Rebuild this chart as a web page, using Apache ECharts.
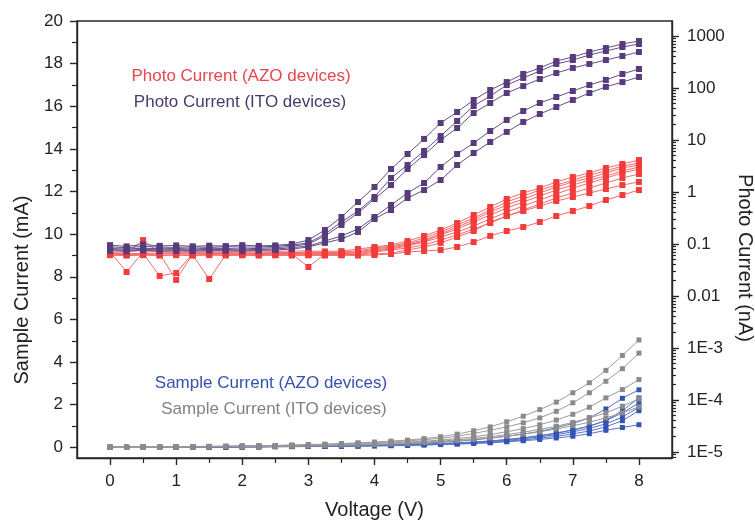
<!DOCTYPE html>
<html>
<head>
<meta charset="utf-8">
<script src="https://cdn.jsdelivr.net/npm/echarts@6/dist/echarts.min.js"></script>
<style>
  html, body { margin: 0; padding: 0; background: #ffffff; }
  #chart { width: 755px; height: 522px; }
</style>
</head>
<body>
<div id="chart"></div>
<script>
// Bias voltage steps (V)
const voltages = [0, 0.25, 0.5, 0.75, 1, 1.25, 1.5, 1.75, 2, 2.25, 2.5, 2.75, 3, 3.25, 3.5, 3.75,
                  4, 4.25, 4.5, 4.75, 5, 5.25, 5.5, 5.75, 6, 6.25, 6.5, 6.75, 7, 7.25, 7.5, 7.75, 8];

// Photo current of AZO devices (nA)
const photoAzo1 = [0.078, 0.074, 0.076, 0.073, 0.075, 0.074, 0.072, 0.075, 0.073, 0.074, 0.072, 0.074, 0.073, 0.072, 0.073,
                   0.0801, 0.0876, 0.0957, 0.114, 0.143, 0.186, 0.253, 0.361, 0.515, 0.733, 0.957, 1.19, 1.56, 1.94, 2.32, 2.90, 3.46, 4.12];
const photoAzo2 = [0.071, 0.029, 0.070, 0.072, 0.070, 0.071, 0.069, 0.070, 0.071, 0.069, 0.070, 0.068, 0.070, 0.069, 0.070,
                   0.0733, 0.0838, 0.0916, 0.105, 0.130, 0.170, 0.232, 0.316, 0.451, 0.642, 0.838, 1.09, 1.36, 1.70, 2.12, 2.54, 3.16, 3.61];
const photoAzo3 = [0.068, 0.067, 0.119, 0.068, 0.067, 0.068, 0.066, 0.068, 0.067, 0.066, 0.068, 0.067, 0.068, 0.067, 0.068,
                   0.0702, 0.0801, 0.0876, 0.100, 0.119, 0.156, 0.212, 0.289, 0.412, 0.562, 0.733, 0.957, 1.25, 1.56, 1.86, 2.32, 2.90, 3.31];
const photoAzo4 = [0.066, 0.065, 0.066, 0.0243, 0.0277, 0.066, 0.065, 0.066, 0.065, 0.066, 0.065, 0.066, 0.065, 0.066, 0.065,
                   0.067, 0.0767, 0.0838, 0.0957, 0.114, 0.149, 0.194, 0.265, 0.361, 0.492, 0.642, 0.838, 1.09, 1.36, 1.70, 2.03, 2.54, 3.03];
const photoAzo5 = [0.064, 0.063, 0.064, 0.065, 0.0204, 0.064, 0.063, 0.064, 0.063, 0.064, 0.063, 0.064, 0.063, 0.064, 0.063,
                   0.065, 0.0733, 0.0801, 0.0916, 0.109, 0.136, 0.170, 0.222, 0.303, 0.412, 0.538, 0.702, 0.916, 1.19, 1.49, 1.86, 2.32, 2.77];
const photoAzo6 = [0.062, 0.061, 0.062, 0.061, 0.062, 0.061, 0.0212, 0.062, 0.061, 0.062, 0.061, 0.062, 0.061, 0.062, 0.061,
                   0.062, 0.0702, 0.0767, 0.0838, 0.0957, 0.119, 0.149, 0.194, 0.253, 0.345, 0.451, 0.588, 0.767, 0.957, 1.19, 1.49, 1.86, 2.22];
const photoAzo7 = [0.066, 0.065, 0.066, 0.065, 0.066, 0.065, 0.066, 0.065, 0.066, 0.065, 0.066, 0.065, 0.0361, 0.064, 0.063,
                   0.063, 0.0642, 0.0671, 0.0767, 0.0876, 0.105, 0.136, 0.178, 0.265, 0.345, 0.431, 0.538, 0.671, 0.801, 0.957, 1.14, 1.36, 1.56];
const photoAzo8 = [0.061, 0.060, 0.061, 0.060, 0.061, 0.060, 0.061, 0.060, 0.061, 0.060, 0.061, 0.060, 0.061, 0.060, 0.061,
                   0.060, 0.0615, 0.0642, 0.0702, 0.0733, 0.0767, 0.0876, 0.109, 0.143, 0.178, 0.212, 0.265, 0.345, 0.431, 0.538, 0.702, 0.876, 1.09];

// Photo current of ITO devices (nA)
const photoIto1 = [0.095, 0.090, 0.098, 0.092, 0.094, 0.090, 0.093, 0.091, 0.095, 0.092, 0.094, 0.100,
                   0.119, 0.186, 0.331, 0.642, 1.25, 2.77, 5.38, 10.5, 21.2, 34.5, 58.8, 91.5, 130, 186, 243, 330, 395, 492, 588, 702, 801];
const photoIto2 = [0.088, 0.085, 0.090, 0.087, 0.086, 0.088, 0.086, 0.089, 0.087, 0.088, 0.090, 0.095,
                   0.105, 0.156, 0.265, 0.431, 0.801, 1.86, 3.31, 6.14, 11.9, 23.2, 45.1, 70.2, 114, 156, 212, 290, 345, 431, 515, 614, 702];
const photoIto3 = [0.082, 0.080, 0.083, 0.081, 0.082, 0.080, 0.083, 0.082, 0.080, 0.083, 0.085, 0.090,
                   0.100, 0.143, 0.232, 0.395, 0.733, 1.36, 2.77, 5.15, 10.0, 17.0, 33.0, 51.5, 80.1, 109, 149, 194, 243, 290, 345, 412, 492];
const photoIto4 = [0.078, 0.076, 0.079, 0.077, 0.078, 0.077, 0.079, 0.078, 0.077, 0.079, 0.080, 0.085,
                   0.0916, 0.114, 0.143, 0.194, 0.331, 0.562, 0.956, 1.49, 3.03, 5.38, 8.75, 14.9, 24.3, 36.1, 51.5, 67.1, 87.5, 114, 143, 186, 232];
const photoIto5 = [0.074, 0.072, 0.075, 0.073, 0.074, 0.073, 0.075, 0.074, 0.073, 0.075, 0.077, 0.080,
                   0.0876, 0.105, 0.125, 0.170, 0.303, 0.451, 0.767, 1.09, 1.70, 3.31, 5.62, 9.16, 14.3, 22.2, 31.6, 43.1, 58.8, 80.1, 105, 130, 163];

// Sample current of AZO devices (mA)
const sampleAzo1 = [0, 0, 0.01, 0.01, 0.02, 0.02, 0.03, 0.03, 0.04, 0.04, 0.05, 0.06, 0.07, 0.08, 0.09, 0.1, 0.12,
                    0.14, 0.17, 0.2, 0.24, 0.29, 0.35, 0.43, 0.52, 0.62, 0.75, 0.92, 1.12, 1.38, 1.8, 2.3, 2.7];
const sampleAzo2 = [0, 0, 0.01, 0.01, 0.01, 0.02, 0.02, 0.02, 0.03, 0.03, 0.04, 0.04, 0.05, 0.06, 0.07, 0.08, 0.09,
                    0.1, 0.12, 0.14, 0.17, 0.2, 0.24, 0.29, 0.36, 0.44, 0.54, 0.66, 0.81, 0.99, 1.26, 1.72, 2.32];
const sampleAzo3 = [0, 0, 0, 0.01, 0.01, 0.02, 0.02, 0.02, 0.03, 0.03, 0.04, 0.05, 0.05, 0.06, 0.07, 0.08, 0.09,
                    0.11, 0.13, 0.15, 0.18, 0.21, 0.25, 0.3, 0.37, 0.45, 0.55, 0.67, 0.82, 1.0, 1.25, 1.62, 2.08];
const sampleAzo4 = [0, 0, 0, 0.01, 0.01, 0.01, 0.02, 0.02, 0.03, 0.03, 0.04, 0.04, 0.05, 0.06, 0.06, 0.07, 0.08,
                    0.1, 0.11, 0.13, 0.16, 0.19, 0.22, 0.27, 0.33, 0.4, 0.49, 0.6, 0.73, 0.89, 1.1, 1.42, 1.88];
const sampleAzo5 = [0, 0, 0, 0, 0.01, 0.01, 0.02, 0.02, 0.02, 0.03, 0.03, 0.04, 0.04, 0.05, 0.06, 0.06, 0.07,
                    0.08, 0.1, 0.12, 0.14, 0.17, 0.2, 0.24, 0.29, 0.35, 0.43, 0.52, 0.63, 0.77, 0.96, 1.25, 1.72];
const sampleAzo6 = [0, 0, 0, 0, 0, 0.01, 0.01, 0.01, 0.02, 0.02, 0.03, 0.03, 0.04, 0.04, 0.05, 0.06, 0.07,
                    0.08, 0.09, 0.11, 0.13, 0.15, 0.18, 0.21, 0.26, 0.31, 0.37, 0.44, 0.52, 0.64, 0.8, 0.93, 1.06];

// Sample current of ITO devices (mA)
const sampleIto1 = [0, 0.01, 0.02, 0.02, 0.03, 0.04, 0.05, 0.06, 0.07, 0.08, 0.09, 0.11, 0.13, 0.15, 0.18, 0.21, 0.25,
                    0.29, 0.34, 0.41, 0.5, 0.62, 0.78, 0.96, 1.2, 1.46, 1.77, 2.12, 2.56, 3.03, 3.61, 4.31, 5.04];
const sampleIto2 = [0, 0.01, 0.01, 0.02, 0.03, 0.03, 0.04, 0.05, 0.06, 0.07, 0.08, 0.1, 0.11, 0.13, 0.16, 0.19, 0.22,
                    0.26, 0.3, 0.36, 0.42, 0.52, 0.65, 0.8, 0.96, 1.15, 1.38, 1.69, 2.09, 2.56, 3.1, 3.69, 4.42];
const sampleIto3 = [0, 0, 0.01, 0.02, 0.02, 0.03, 0.03, 0.04, 0.05, 0.06, 0.07, 0.08, 0.1, 0.11, 0.13, 0.15, 0.18,
                    0.21, 0.25, 0.29, 0.34, 0.41, 0.5, 0.6, 0.73, 0.88, 1.06, 1.28, 1.55, 1.88, 2.32, 2.71, 3.18];
const sampleIto4 = [0, 0, 0.01, 0.01, 0.02, 0.02, 0.03, 0.04, 0.04, 0.05, 0.06, 0.07, 0.08, 0.1, 0.11, 0.13, 0.15,
                    0.18, 0.21, 0.25, 0.29, 0.35, 0.42, 0.5, 0.6, 0.71, 0.84, 0.99, 1.17, 1.38, 1.62, 1.93, 2.28];
const sampleIto5 = [0, 0, 0.01, 0.01, 0.02, 0.02, 0.03, 0.03, 0.04, 0.05, 0.05, 0.06, 0.07, 0.08, 0.1, 0.11, 0.13,
                    0.16, 0.18, 0.22, 0.26, 0.31, 0.37, 0.44, 0.52, 0.62, 0.73, 0.86, 1.01, 1.18, 1.38, 1.62, 1.9];

// Axis ticks and labels
const voltageTicks = [0, 1, 2, 3, 4, 5, 6, 7, 8];
const voltageMinorTicks = [0.5, 1.5, 2.5, 3.5, 4.5, 5.5, 6.5, 7.5];
const sampleTicks = [0, 2, 4, 6, 8, 10, 12, 14, 16, 18, 20];
const sampleMinorTicks = [1, 3, 5, 7, 9, 11, 13, 15, 17, 19];
const photoTicks = [1e-5, 1e-4, 1e-3, 0.01, 0.1, 1, 10, 100, 1000];
const photoTickLabels = ['1E-5', '1E-4', '1E-3', '0.01', '0.1', '1', '10', '100', '1000'];

// Axis titles and legend captions
const voltageTitle = 'Voltage (V)';
const sampleTitle = 'Sample Current (mA)';
const photoTitle = 'Photo Current (nA)';
const legendItems = [
  { text: 'Photo Current (AZO devices)', color: '#e8454c', x: 241, y: 76 },
  { text: 'Photo Current (ITO devices)', color: '#4a3a6c', x: 240, y: 102 },
  { text: 'Sample Current (AZO devices)', color: '#3551ad', x: 271, y: 383 },
  { text: 'Sample Current (ITO devices)', color: '#828282', x: 274, y: 409 }
];

const FONT = '"Liberation Sans", Arial, Helvetica, sans-serif';
const INK = '#262626';
const PHOTO_MIN = 7.67e-6;
const PHOTO_MAX = 1943;

// minor log ticks: 2..9 within each decade
const photoMinorTicks = [];
for (let e = -6; e <= 3; e++) {
  for (let m = 2; m <= 9; m++) {
    const v = m * Math.pow(10, e);
    if (v > PHOTO_MIN && v < PHOTO_MAX) photoMinorTicks.push(v);
  }
}

function photoLabel(v) {
  for (let i = 0; i < photoTicks.length; i++) {
    if (Math.abs(Math.log10(photoTicks[i]) - Math.log10(v)) < 1e-6) return photoTickLabels[i];
  }
  return '';
}

const tickStyle = { color: INK, width: 1.4 };
const minorTickStyle = { color: INK, width: 1.2 };
const labelStyle = { fontSize: 17, color: '#222', fontFamily: FONT };
const nameStyle = { fontSize: 20, color: '#222', fontFamily: FONT };

function curve(values, yAxisIndex, markColor, lineColor, size) {
  return {
    type: 'line',
    xAxisIndex: 0,
    yAxisIndex: yAxisIndex,
    data: voltages.map((v, i) => [v, values[i]]),
    symbol: 'rect',
    symbolSize: size,
    showSymbol: true,
    showAllSymbol: true,
    lineStyle: { color: lineColor, width: 1 },
    itemStyle: { color: markColor },
    emphasis: { disabled: true },
    animation: false,
    silent: true
  };
}

const RED = '#f23c3c', RED_LINE = '#f36a6a';
const PURPLE = '#573b7d', PURPLE_LINE = '#62508a';
const BLUE = '#3453b6', BLUE_LINE = '#5a72c6';
const GRAY = '#8b8b8b', GRAY_LINE = '#9c9c9c';

const series = [];
[sampleAzo1, sampleAzo2, sampleAzo3, sampleAzo4, sampleAzo5, sampleAzo6]
  .forEach(d => series.push(curve(d, 0, BLUE, BLUE_LINE, 5)));
[sampleIto1, sampleIto2, sampleIto3, sampleIto4, sampleIto5]
  .forEach(d => series.push(curve(d, 0, GRAY, GRAY_LINE, 5)));
[photoAzo1, photoAzo2, photoAzo3, photoAzo4, photoAzo5, photoAzo6, photoAzo7, photoAzo8]
  .forEach(d => series.push(curve(d, 2, RED, RED_LINE, 6)));
[photoIto1, photoIto2, photoIto3, photoIto4, photoIto5]
  .forEach(d => series.push(curve(d, 2, PURPLE, PURPLE_LINE, 6)));

const texts = legendItems.map(item => ({
  type: 'text', x: item.x, y: item.y, silent: true,
  style: { text: item.text, fill: item.color, fontSize: 17, fontFamily: FONT, align: 'center', verticalAlign: 'middle' }
}));
// rotated titles of the two vertical axes
texts.push({
  type: 'text', x: 22, y: 290, rotation: Math.PI / 2, silent: true,
  style: { text: sampleTitle, fill: '#222', fontSize: 20, fontFamily: FONT, align: 'center', verticalAlign: 'middle' }
});
texts.push({
  type: 'text', x: 745, y: 258, rotation: -Math.PI / 2, silent: true,
  style: { text: photoTitle, fill: '#222', fontSize: 20, fontFamily: FONT, align: 'center', verticalAlign: 'middle' }
});

const chart = echarts.init(document.getElementById('chart'), null, { renderer: 'canvas' });
chart.setOption({
  animation: false,
  backgroundColor: '#ffffff',
  grid: {
    left: 77, right: 83, top: 21, bottom: 64,
    show: true, borderColor: INK, borderWidth: 1.4,
    containLabel: false, outerBoundsMode: 'none'
  },
  xAxis: [
    {
      type: 'value', position: 'bottom', min: -0.5, max: 8.5,
      axisLine: { show: true, onZero: false, lineStyle: tickStyle },
      axisTick: { show: true, customValues: voltageTicks, length: 7, lineStyle: tickStyle },
      axisLabel: { customValues: voltageTicks, margin: 15, ...labelStyle },
      splitLine: { show: false },
      name: voltageTitle, nameLocation: 'middle', nameGap: 42, nameTextStyle: nameStyle
    },
    {
      type: 'value', position: 'bottom', min: -0.5, max: 8.5,
      axisLine: { show: false, onZero: false },
      axisTick: { show: true, customValues: voltageMinorTicks, length: 5, lineStyle: minorTickStyle },
      axisLabel: { show: false },
      splitLine: { show: false }
    }
  ],
  yAxis: [
    {
      type: 'value', position: 'left', min: -0.5, max: 20,
      axisLine: { show: true, onZero: false, lineStyle: tickStyle },
      axisTick: { show: true, customValues: sampleTicks, length: 7, lineStyle: tickStyle },
      axisLabel: { customValues: sampleTicks, margin: 14, ...labelStyle },
      splitLine: { show: false }
    },
    {
      type: 'value', position: 'left', min: -0.5, max: 20,
      axisLine: { show: false, onZero: false },
      axisTick: { show: true, customValues: sampleMinorTicks, length: 5, lineStyle: minorTickStyle },
      axisLabel: { show: false },
      splitLine: { show: false }
    },
    {
      type: 'log', logBase: 10, position: 'right', min: PHOTO_MIN, max: PHOTO_MAX,
      axisLine: { show: true, onZero: false, lineStyle: tickStyle },
      axisTick: { show: true, customValues: photoTicks, length: 7, lineStyle: tickStyle },
      axisLabel: { customValues: photoTicks, margin: 15, formatter: photoLabel, ...labelStyle },
      splitLine: { show: false }
    },
    {
      type: 'log', logBase: 10, position: 'right', min: PHOTO_MIN, max: PHOTO_MAX,
      axisLine: { show: false, onZero: false },
      axisTick: { show: true, customValues: photoMinorTicks, length: 4, lineStyle: minorTickStyle },
      axisLabel: { show: false },
      splitLine: { show: false }
    }
  ],
  graphic: texts,
  series: series
});
</script>
</body>
</html>
